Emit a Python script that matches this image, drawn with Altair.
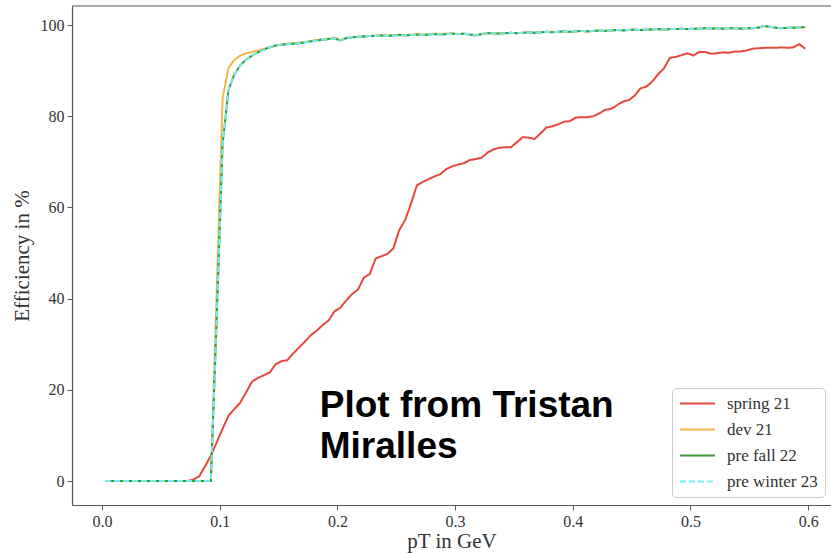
import altair as alt
import pandas as pd

# bin centres of pT (GeV)
pt = [
    0.0025, 0.0075, 0.0125, 0.0175, 0.0225, 0.0275, 0.0325, 0.0375, 0.0425, 0.0475,
    0.0525, 0.0575, 0.0625, 0.0675, 0.0725, 0.0775, 0.0825, 0.0875, 0.0925, 0.0975,
    0.1025, 0.1075, 0.1125, 0.1175, 0.1225, 0.1275, 0.1325, 0.1375, 0.1425, 0.1475,
    0.1525, 0.1575, 0.1625, 0.1675, 0.1725, 0.1775, 0.1825, 0.1875, 0.1925, 0.1975,
    0.2025, 0.2075, 0.2125, 0.2175, 0.2225, 0.2275, 0.2325, 0.2375, 0.2425, 0.2475,
    0.2525, 0.2575, 0.2625, 0.2675, 0.2725, 0.2775, 0.2825, 0.2875, 0.2925, 0.2975,
    0.3025, 0.3075, 0.3125, 0.3175, 0.3225, 0.3275, 0.3325, 0.3375, 0.3425, 0.3475,
    0.3525, 0.3575, 0.3625, 0.3675, 0.3725, 0.3775, 0.3825, 0.3875, 0.3925, 0.3975,
    0.4025, 0.4075, 0.4125, 0.4175, 0.4225, 0.4275, 0.4325, 0.4375, 0.4425, 0.4475,
    0.4525, 0.4575, 0.4625, 0.4675, 0.4725, 0.4775, 0.4825, 0.4875, 0.4925, 0.4975,
    0.5025, 0.5075, 0.5125, 0.5175, 0.5225, 0.5275, 0.5325, 0.5375, 0.5425, 0.5475,
    0.5525, 0.5575, 0.5625, 0.5675, 0.5725, 0.5775, 0.5825, 0.5875, 0.5925, 0.5975,
]

spring21 = [
    0, 0, 0, 0, 0, 0, 0, 0, 0, 0,
    0, 0, 0, 0, 0, 0.3, 1.0, 3.2, 5.6, 8.5,
    11.5, 14.3, 15.8, 17.2, 19.5, 21.8, 22.6, 23.2, 23.8, 25.6,
    26.3, 26.5, 28.0, 29.3, 30.6, 32.0, 33.0, 34.2, 35.2, 37.2,
    38.0, 39.6, 41.0, 42.0, 44.6, 45.4, 48.8, 49.3, 49.8, 51.0,
    55.0, 57.2, 60.8, 64.8, 65.6, 66.2, 66.8, 67.3, 68.4, 69.0,
    69.4, 69.7, 70.4, 70.6, 70.9, 72.0, 72.7, 73.1, 73.2, 73.2,
    74.3, 75.4, 75.3, 75.0, 76.2, 77.5, 77.8, 78.2, 78.8, 78.9,
    79.7, 79.8, 79.8, 80.0, 80.6, 81.4, 81.6, 82.4, 83.2, 83.5,
    84.5, 86.1, 86.5, 87.6, 89.2, 90.5, 92.8, 93.0, 93.4, 93.8,
    93.3, 94.1, 94.1, 93.7, 93.8, 94.0, 93.9, 94.2, 94.2, 94.4,
    94.8, 94.9, 95.0, 95.0, 95.0, 95.1, 95.0, 95.1, 95.8, 94.8,
]

dev21 = [
    0, 0, 0, 0, 0, 0, 0, 0, 0, 0,
    0, 0, 0, 0, 0, 0, 0, 0, 0, 42.0,
    84.0, 90.6, 92.4, 93.3, 93.8, 94.1, 94.4, 94.8, 95.1, 95.5,
    95.7, 95.9, 96.0, 96.1, 96.3, 96.5, 96.7, 96.9, 97.0, 97.2,
    96.7, 97.2, 97.3, 97.4, 97.5, 97.6, 97.7, 97.7, 97.7, 97.8,
    97.9, 97.8, 97.9, 98.0, 97.9, 98.0, 98.1, 98.0, 98.1, 98.2,
    98.0, 98.1, 97.9, 97.8, 98.0, 98.2, 98.2, 98.2, 98.2, 98.3,
    98.2, 98.3, 98.4, 98.3, 98.4, 98.5, 98.5, 98.5, 98.6, 98.5,
    98.6, 98.7, 98.6, 98.7, 98.8, 98.7, 98.8, 98.9, 98.9, 98.9,
    99.0, 98.9, 99.0, 99.0, 99.1, 99.0, 99.1, 99.1, 99.2, 99.1,
    99.2, 99.2, 99.3, 99.2, 99.3, 99.2, 99.3, 99.3, 99.2, 99.3,
    99.3, 99.4, 99.7, 99.6, 99.4, 99.3, 99.4, 99.4, 99.5, 99.5,
]

prefall22 = [
    0, 0, 0, 0, 0, 0, 0, 0, 0, 0,
    0, 0, 0, 0, 0, 0, 0, 0, 0, 36.0,
    74.0, 85.8, 89.2, 91.2, 92.4, 93.3, 94.0, 94.6, 95.1, 95.5,
    95.7, 95.8, 95.9, 96.0, 96.2, 96.4, 96.6, 96.8, 96.9, 97.1,
    96.6, 97.1, 97.3, 97.4, 97.5, 97.6, 97.6, 97.7, 97.6, 97.7,
    97.8, 97.7, 97.8, 97.9, 97.8, 97.9, 98.0, 97.9, 98.0, 98.1,
    98.0, 98.1, 97.9, 97.7, 98.0, 98.2, 98.2, 98.1, 98.2, 98.3,
    98.2, 98.3, 98.4, 98.3, 98.4, 98.5, 98.4, 98.5, 98.6, 98.5,
    98.6, 98.7, 98.6, 98.7, 98.8, 98.7, 98.8, 98.9, 98.8, 98.9,
    99.0, 98.9, 99.0, 99.0, 99.1, 99.0, 99.1, 99.1, 99.2, 99.1,
    99.2, 99.2, 99.3, 99.2, 99.3, 99.2, 99.3, 99.3, 99.2, 99.3,
    99.3, 99.4, 99.8, 99.6, 99.4, 99.3, 99.4, 99.4, 99.5, 99.5,
]

# pre winter 23 lies exactly on top of pre fall 22 in the picture
prewinter23 = list(prefall22)

series_names = ["spring 21", "dev 21", "pre fall 22", "pre winter 23"]
series_colors = ["#e8473b", "#f5b746", "#3f963a", "#72f0f0"]
series_dashes = [[1, 0], [1, 0], [1, 0], [6, 3]]
series_widths = [2, 2, 2, 3]

x_ticks = [0.0, 0.1, 0.2, 0.3, 0.4, 0.5, 0.6]
y_ticks = [0, 20, 40, 60, 80, 100]

annot_text = ["Plot from Tristan", "Miralles"]
annot_x = [0.185, 0.185]
annot_y = [14.0, 5.0]

rows = []
for name, vals in zip(series_names, [spring21, dev21, prefall22, prewinter23]):
    for x, y in zip(pt, vals):
        rows.append({"pT": x, "eff": y, "series": name})
df = pd.DataFrame(rows)

SERIF = "Liberation Serif"
W, H = 759, 499

x_enc = alt.X(
    "pT:Q",
    scale=alt.Scale(domain=[-0.0255, 0.6194], nice=False, zero=False),
    axis=alt.Axis(values=x_ticks, format=".1f", title="pT in GeV", grid=False),
)
y_enc = alt.Y(
    "eff:Q",
    scale=alt.Scale(domain=[-5.26, 104.17], nice=False, zero=False),
    axis=alt.Axis(values=y_ticks, format="d", title="Efficiency in %", grid=False),
)

legend = alt.Legend(
    title=None,
    orient="none",
    legendX=600,
    legendY=382,
    padding=7,
    strokeColor="#cccccc",
    fillColor="white",
    cornerRadius=4,
    labelFont=SERIF,
    labelFontSize=17,
    labelColor="#333333",
    symbolType="M-2.5,0L2.5,0",
    symbolSize=196,
    symbolStrokeWidth=2,
    symbolOffset=10,
    labelOffset=21,
    rowPadding=8,
)

lines = alt.Chart(df).mark_line(clip=True).encode(
    x=x_enc,
    y=y_enc,
    color=alt.Color("series:N", scale=alt.Scale(domain=series_names, range=series_colors), legend=legend),
    strokeDash=alt.StrokeDash("series:N", scale=alt.Scale(domain=series_names, range=series_dashes), legend=legend),
    strokeWidth=alt.StrokeWidth("series:N", scale=alt.Scale(domain=series_names, range=series_widths), legend=None),
)

annot_df = pd.DataFrame({"text": annot_text, "x": annot_x, "y": annot_y})
annot = alt.Chart(annot_df).mark_text(
    align="left", baseline="alphabetic", font="Liberation Sans", fontWeight="bold",
    fontSize=37, color="black",
).encode(x="x:Q", y="y:Q", text="text:N")

top_border = alt.Chart(alt.Data(values=[{}])).mark_rule(color="#555555", strokeWidth=1.2).encode(
    x=alt.value(0), x2=alt.value(W), y=alt.value(0)
)

chart = (
    alt.layer(lines, annot, top_border)
    .properties(
        width=W,
        height=H,
        padding={"left": 72, "top": 6, "right": 0, "bottom": 48},
        autosize=alt.AutoSizeParams(type="none"),
        background="white",
    )
    .configure_view(stroke=None)
    .configure_axis(
        labelFont=SERIF,
        labelFontSize=16,
        labelColor="#333333",
        titleFont=SERIF,
        titleFontSize=21,
        titleFontWeight="normal",
        titleColor="#333333",
        tickColor="#555555",
        domainColor="#555555",
        domainWidth=1.2,
        tickSize=5,
        labelPadding=3,
    )
    .configure_axisX(titlePadding=1)
    .configure_axisY(titlePadding=8)
)

chart.save("out.html", embed_options={"renderer": "svg", "actions": False})
